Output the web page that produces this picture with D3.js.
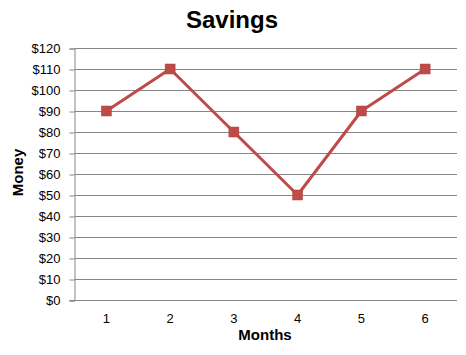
<!DOCTYPE html>
<html>
<head>
<meta charset="utf-8">
<script src="https://cdn.jsdelivr.net/npm/d3@7"></script>
<style>
  body { margin: 0; background: #fff; }
  svg { display: block; font-family: Arial, "Liberation Sans", sans-serif; }
</style>
</head>
<body>
<div id="vis"></div>
<script>
// data
const months = ["1", "2", "3", "4", "5", "6"];
const savings = [90, 110, 80, 50, 90, 110];
const yTicks = [0, 10, 20, 30, 40, 50, 60, 70, 80, 90, 100, 110, 120];

const W = 466, H = 355;
const PL = 74.5, PR = 457, PT = 48, PB = 300;

const xScale = d3.scaleBand()
  .domain(months)
  .range([PL, PR]);

const yScale = d3.scaleLinear()
  .domain([0, 120])
  .range([PB, PT]);

const svg = d3.select("#vis")
  .append("svg")
    .attr("width", W)
    .attr("height", H);

// gridlines
svg.append("g")
  .selectAll("line")
  .data(yTicks.filter(d => d > 0))
  .enter()
  .append("line")
    .attr("x1", PL)
    .attr("x2", PR)
    .attr("y1", d => Math.round(yScale(d)) + 0.5)
    .attr("y2", d => Math.round(yScale(d)) + 0.5)
    .attr("stroke", "#868686")
    .attr("stroke-width", 1);

// y axis
const yAxis = d3.axisLeft(yScale)
  .tickValues(yTicks)
  .tickSize(5)
  .tickPadding(9)
  .tickFormat(d => "$" + d);

svg.append("g")
  .attr("transform", `translate(${PL}, 0.5)`)
  .call(yAxis)
  .call(g => g.select(".domain").attr("stroke", "#868686"))
  .call(g => g.selectAll(".tick line").attr("stroke", "#868686"))
  .call(g => g.selectAll(".tick text")
    .attr("font-size", 13)
    .attr("font-family", "Arial, 'Liberation Sans', sans-serif")
    .attr("fill", "#000"));

// x axis
const xAxis = d3.axisBottom(xScale)
  .tickSize(0)
  .tickPadding(13);

svg.append("g")
  .attr("transform", `translate(0, ${PB + 0.5})`)
  .call(xAxis)
  .call(g => g.select(".domain").attr("stroke", "#868686").attr("d", `M${PL - 5},0H${PR}`))
  .call(g => g.selectAll(".tick text")
    .attr("font-size", 13)
    .attr("font-family", "Arial, 'Liberation Sans', sans-serif")
    .attr("fill", "#000"));

// line
const line = d3.line()
  .x((d, i) => xScale(months[i]) + xScale.bandwidth() / 2)
  .y(d => yScale(d));

svg.append("path")
  .datum(savings)
  .attr("d", line)
  .attr("fill", "none")
  .attr("stroke", "#BE4B48")
  .attr("stroke-width", 3)
  .attr("stroke-linejoin", "round");

svg.append("g")
  .selectAll("rect")
  .data(savings)
  .enter()
  .append("rect")
    .attr("x", (d, i) => xScale(months[i]) + xScale.bandwidth() / 2 - 5)
    .attr("y", d => yScale(d) - 5)
    .attr("width", 10)
    .attr("height", 10)
    .attr("fill", "#BE4B48")
    .attr("stroke", "#B0403D")
    .attr("stroke-width", 0.5);

// titles
svg.append("text")
  .attr("x", 232)
  .attr("y", 28)
  .attr("text-anchor", "middle")
  .attr("font-size", 24)
  .attr("font-weight", "bold")
  .text("Savings");

svg.append("text")
  .attr("x", 265)
  .attr("y", 340)
  .attr("text-anchor", "middle")
  .attr("font-size", 15)
  .attr("font-weight", "bold")
  .text("Months");

svg.append("text")
  .attr("transform", "translate(22.5, 172.5) rotate(-90)")
  .attr("text-anchor", "middle")
  .attr("font-size", 15)
  .attr("font-weight", "bold")
  .text("Money");
</script>
</body>
</html>
